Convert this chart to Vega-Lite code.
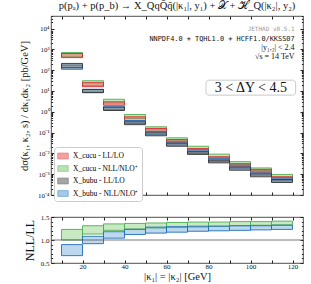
{
  "$schema": "https://vega.github.io/schema/vega-lite/v6.json",
  "padding": {"left": 19, "top": 0, "right": 2, "bottom": 0},
  "config": {
    "font": "Liberation Serif",
    "view": {"stroke": "#222", "strokeWidth": 0.8},
    "axis": {"grid": false, "domain": false, "tickColor": "#222", "tickSize": -3, "labelFont": "Liberation Serif", "labelFontSize": 7.5, "labelColor": "#111", "titleFont": "Liberation Serif", "titleFontWeight": "normal", "titleColor": "#111", "labelPadding": 5}
  },
  "datasets": {
    "upper": [
      {"b": 10, "e": 20, "s": "X_cucu - NLL/NLO⁺", "lo": 440, "hi": 700},
      {"b": 20, "e": 30, "s": "X_cucu - NLL/NLO⁺", "lo": 18, "hi": 31},
      {"b": 30, "e": 40, "s": "X_cucu - NLL/NLO⁺", "lo": 2.6, "hi": 4.0},
      {"b": 40, "e": 50, "s": "X_cucu - NLL/NLO⁺", "lo": 0.48, "hi": 0.74},
      {"b": 50, "e": 60, "s": "X_cucu - NLL/NLO⁺", "lo": 0.135, "hi": 0.19},
      {"b": 60, "e": 70, "s": "X_cucu - NLL/NLO⁺", "lo": 0.040, "hi": 0.056},
      {"b": 70, "e": 80, "s": "X_cucu - NLL/NLO⁺", "lo": 0.0155, "hi": 0.022},
      {"b": 80, "e": 90, "s": "X_cucu - NLL/NLO⁺", "lo": 0.0062, "hi": 0.0092},
      {"b": 90, "e": 100, "s": "X_cucu - NLL/NLO⁺", "lo": 0.0029, "hi": 0.0040},
      {"b": 100, "e": 110, "s": "X_cucu - NLL/NLO⁺", "lo": 0.0015, "hi": 0.0020},
      {"b": 110, "e": 120, "s": "X_cucu - NLL/NLO⁺", "lo": 0.0007, "hi": 0.00097},
      {"b": 10, "e": 20, "s": "X_cucu - LL/LO", "lo": 400, "hi": 630},
      {"b": 20, "e": 30, "s": "X_cucu - LL/LO", "lo": 16, "hi": 25},
      {"b": 30, "e": 40, "s": "X_cucu - LL/LO", "lo": 2.07, "hi": 3.0},
      {"b": 40, "e": 50, "s": "X_cucu - LL/LO", "lo": 0.37, "hi": 0.57},
      {"b": 50, "e": 60, "s": "X_cucu - LL/LO", "lo": 0.109, "hi": 0.158},
      {"b": 60, "e": 70, "s": "X_cucu - LL/LO", "lo": 0.032, "hi": 0.046},
      {"b": 70, "e": 80, "s": "X_cucu - LL/LO", "lo": 0.012, "hi": 0.017},
      {"b": 80, "e": 90, "s": "X_cucu - LL/LO", "lo": 0.0047, "hi": 0.0069},
      {"b": 90, "e": 100, "s": "X_cucu - LL/LO", "lo": 0.0023, "hi": 0.0032},
      {"b": 100, "e": 110, "s": "X_cucu - LL/LO", "lo": 0.0012, "hi": 0.0017},
      {"b": 110, "e": 120, "s": "X_cucu - LL/LO", "lo": 0.00056, "hi": 0.00075},
      {"b": 10, "e": 20, "s": "X_bubu - NLL/NLO⁺", "lo": 110, "hi": 175},
      {"b": 20, "e": 30, "s": "X_bubu - NLL/NLO⁺", "lo": 8.2, "hi": 12},
      {"b": 30, "e": 40, "s": "X_bubu - NLL/NLO⁺", "lo": 1.25, "hi": 1.85},
      {"b": 40, "e": 50, "s": "X_bubu - NLL/NLO⁺", "lo": 0.27, "hi": 0.38},
      {"b": 50, "e": 60, "s": "X_bubu - NLL/NLO⁺", "lo": 0.08, "hi": 0.115},
      {"b": 60, "e": 70, "s": "X_bubu - NLL/NLO⁺", "lo": 0.025, "hi": 0.036},
      {"b": 70, "e": 80, "s": "X_bubu - NLL/NLO⁺", "lo": 0.010, "hi": 0.0145},
      {"b": 80, "e": 90, "s": "X_bubu - NLL/NLO⁺", "lo": 0.004, "hi": 0.0058},
      {"b": 90, "e": 100, "s": "X_bubu - NLL/NLO⁺", "lo": 0.0018, "hi": 0.0027},
      {"b": 100, "e": 110, "s": "X_bubu - NLL/NLO⁺", "lo": 0.0009, "hi": 0.0013},
      {"b": 110, "e": 120, "s": "X_bubu - NLL/NLO⁺", "lo": 0.00047, "hi": 0.00065},
      {"b": 10, "e": 20, "s": "X_bubu - LL/LO", "lo": 130, "hi": 210},
      {"b": 20, "e": 30, "s": "X_bubu - LL/LO", "lo": 8.5, "hi": 11.8},
      {"b": 30, "e": 40, "s": "X_bubu - LL/LO", "lo": 1.15, "hi": 1.65},
      {"b": 40, "e": 50, "s": "X_bubu - LL/LO", "lo": 0.24, "hi": 0.33},
      {"b": 50, "e": 60, "s": "X_bubu - LL/LO", "lo": 0.070, "hi": 0.098},
      {"b": 60, "e": 70, "s": "X_bubu - LL/LO", "lo": 0.022, "hi": 0.031},
      {"b": 70, "e": 80, "s": "X_bubu - LL/LO", "lo": 0.0089, "hi": 0.012},
      {"b": 80, "e": 90, "s": "X_bubu - LL/LO", "lo": 0.0035, "hi": 0.0048},
      {"b": 90, "e": 100, "s": "X_bubu - LL/LO", "lo": 0.00155, "hi": 0.0022},
      {"b": 100, "e": 110, "s": "X_bubu - LL/LO", "lo": 0.00075, "hi": 0.00105},
      {"b": 110, "e": 120, "s": "X_bubu - LL/LO", "lo": 0.0004, "hi": 0.00055}
    ],
    "ratio": [
      {"b": 10, "e": 20, "s": "X_cucu - NLL/NLO⁺", "lo": 1.0, "hi": 1.23},
      {"b": 20, "e": 30, "s": "X_cucu - NLL/NLO⁺", "lo": 1.13, "hi": 1.31},
      {"b": 30, "e": 40, "s": "X_cucu - NLL/NLO⁺", "lo": 1.21, "hi": 1.35},
      {"b": 40, "e": 50, "s": "X_cucu - NLL/NLO⁺", "lo": 1.24, "hi": 1.36},
      {"b": 50, "e": 60, "s": "X_cucu - NLL/NLO⁺", "lo": 1.26, "hi": 1.37},
      {"b": 60, "e": 70, "s": "X_cucu - NLL/NLO⁺", "lo": 1.27, "hi": 1.38},
      {"b": 70, "e": 80, "s": "X_cucu - NLL/NLO⁺", "lo": 1.28, "hi": 1.39},
      {"b": 80, "e": 90, "s": "X_cucu - NLL/NLO⁺", "lo": 1.30, "hi": 1.39},
      {"b": 90, "e": 100, "s": "X_cucu - NLL/NLO⁺", "lo": 1.31, "hi": 1.40},
      {"b": 100, "e": 110, "s": "X_cucu - NLL/NLO⁺", "lo": 1.32, "hi": 1.40},
      {"b": 110, "e": 120, "s": "X_cucu - NLL/NLO⁺", "lo": 1.33, "hi": 1.41},
      {"b": 10, "e": 20, "s": "X_bubu - NLL/NLO⁺", "lo": 0.66, "hi": 0.90},
      {"b": 20, "e": 30, "s": "X_bubu - NLL/NLO⁺", "lo": 0.92, "hi": 1.08},
      {"b": 30, "e": 40, "s": "X_bubu - NLL/NLO⁺", "lo": 1.04, "hi": 1.18},
      {"b": 40, "e": 50, "s": "X_bubu - NLL/NLO⁺", "lo": 1.12, "hi": 1.23},
      {"b": 50, "e": 60, "s": "X_bubu - NLL/NLO⁺", "lo": 1.15, "hi": 1.28},
      {"b": 60, "e": 70, "s": "X_bubu - NLL/NLO⁺", "lo": 1.17, "hi": 1.29},
      {"b": 70, "e": 80, "s": "X_bubu - NLL/NLO⁺", "lo": 1.19, "hi": 1.30},
      {"b": 80, "e": 90, "s": "X_bubu - NLL/NLO⁺", "lo": 1.20, "hi": 1.30},
      {"b": 90, "e": 100, "s": "X_bubu - NLL/NLO⁺", "lo": 1.21, "hi": 1.31},
      {"b": 100, "e": 110, "s": "X_bubu - NLL/NLO⁺", "lo": 1.22, "hi": 1.31},
      {"b": 110, "e": 120, "s": "X_bubu - NLL/NLO⁺", "lo": 1.23, "hi": 1.32}
    ]
  },
  "spacing": 10,
  "resolve": {"scale": {"fill": "independent", "stroke": "independent"}, "legend": {"fill": "independent", "stroke": "independent"}},
  "vconcat": [
    {
      "width": 252,
      "height": 179,
      "title": {"text": "p(pₐ) + p(p_b) → X_QqQ̄q̄(|κ₁|, y₁) + 𝒳 + ℋ_Q(|κ₂|, y₂)", "font": "Liberation Serif", "fontSize": 10.5, "fontWeight": "normal", "offset": 4, "color": "#111"},
      "resolve": {"axis": {"x": "independent", "y": "independent"}},
      "layer": [
        {
          "data": {"name": "upper"},
          "mark": {"type": "rect", "fillOpacity": 0.5, "strokeWidth": 0.9},
          "encoding": {
            "x": {"field": "b", "type": "quantitative", "scale": {"domain": [5, 125], "nice": false, "zero": false}, "axis": {"values": [10, 20, 30, 40, 50, 60, 70, 80, 90, 100, 110, 120], "labels": false, "title": null}},
            "x2": {"field": "e"},
            "y": {"field": "lo", "type": "quantitative", "scale": {"type": "log", "domain": [0.0001, 40000], "nice": false}, "axis": {"values": [0.0001, 0.001, 0.01, 0.1, 1, 10, 100, 1000, 10000], "labelExpr": "'10' + replace(replace(replace(replace(replace(replace(replace(''+round(log(datum.value)/LN10),'-','⁻'),'0','⁰'),'1','¹'),'2','²'),'3','³'),'4','⁴'),'5','⁵')", "labelFontSize": 7, "title": "dσ(κ₁, κ₂, s) / dκ₁dκ₂   [pb/GeV]", "titleFontSize": 10.5, "titlePadding": 8}},
            "y2": {"field": "hi"},
            "fill": {"field": "s", "type": "nominal", "scale": {"domain": ["X_cucu - LL/LO", "X_cucu - NLL/NLO⁺", "X_bubu - LL/LO", "X_bubu - NLL/NLO⁺"], "range": ["#f2605e", "#86cf7c", "#6a6a6a", "#6aa6da"]}, "legend": {"title": null, "orient": "none", "legendX": 3, "legendY": 131, "labelFont": "Liberation Serif", "labelFontSize": 7.5, "labelOffset": 4, "symbolType": "M-1,-0.55H1V0.55H-1Z", "symbolSize": 110, "symbolOpacity": 0.6, "symbolStrokeWidth": 0.8, "rowPadding": 1.5, "padding": 3, "fillColor": "white", "strokeColor": "#cccccc", "cornerRadius": 3}},
            "stroke": {"field": "s", "type": "nominal", "scale": {"domain": ["X_cucu - LL/LO", "X_cucu - NLL/NLO⁺", "X_bubu - LL/LO", "X_bubu - NLL/NLO⁺"], "range": ["#d62728", "#4caf50", "#333333", "#1f6fb4"]}, "legend": null}
          }
        },
        {
          "data": {"name": "upper"},
          "mark": {"type": "rect", "opacity": 0},
          "encoding": {
            "x": {"field": "b", "type": "quantitative", "axis": {"orient": "top", "values": [10, 20, 30, 40, 50, 60, 70, 80, 90, 100, 110, 120], "labels": false, "title": null}},
            "y": {"field": "lo", "type": "quantitative", "axis": {"orient": "right", "values": [0.0001, 0.001, 0.01, 0.1, 1, 10, 100, 1000, 10000], "labels": false, "title": null}}
          }
        },
        {
          "data": {"name": "upper"},
          "mark": {"type": "rect", "opacity": 0},
          "encoding": {
            "x": {"field": "b", "type": "quantitative", "axis": null},
            "y": {"field": "lo", "type": "quantitative", "axis": {"orient": "left", "tickSize": -1.6, "values": [0.0002, 0.0003, 0.0004, 0.0005, 0.0006, 0.0007, 0.0008, 0.0009, 0.002, 0.003, 0.004, 0.005, 0.006, 0.007, 0.008, 0.009, 0.02, 0.03, 0.04, 0.05, 0.06, 0.07, 0.08, 0.09, 0.2, 0.3, 0.4, 0.5, 0.6, 0.7, 0.8, 0.9, 2, 3, 4, 5, 6, 7, 8, 9, 20, 30, 40, 50, 60, 70, 80, 90, 200, 300, 400, 500, 600, 700, 800, 900, 2000, 3000, 4000, 5000, 6000, 7000, 8000, 9000, 20000, 30000, 40000], "labels": false, "title": null}}
          }
        },
        {
          "data": {"name": "upper"},
          "mark": {"type": "rect", "opacity": 0},
          "encoding": {
            "x": {"field": "b", "type": "quantitative", "axis": null},
            "y": {"field": "lo", "type": "quantitative", "axis": {"orient": "right", "tickSize": -1.6, "values": [0.0002, 0.0003, 0.0004, 0.0005, 0.0006, 0.0007, 0.0008, 0.0009, 0.002, 0.003, 0.004, 0.005, 0.006, 0.007, 0.008, 0.009, 0.02, 0.03, 0.04, 0.05, 0.06, 0.07, 0.08, 0.09, 0.2, 0.3, 0.4, 0.5, 0.6, 0.7, 0.8, 0.9, 2, 3, 4, 5, 6, 7, 8, 9, 20, 30, 40, 50, 60, 70, 80, 90, 200, 300, 400, 500, 600, 700, 800, 900, 2000, 3000, 4000, 5000, 6000, 7000, 8000, 9000, 20000, 30000, 40000], "labels": false, "title": null}}
          }
        },
        {
          "data": {"values": [{"x1": 78.8, "x2": 121.5, "y1": 6.3, "y2": 33}]},
          "mark": {"type": "rect", "fill": "white", "stroke": "#bbbbbb", "strokeWidth": 0.8, "cornerRadius": 3},
          "encoding": {
            "x": {"field": "x1", "type": "quantitative", "axis": null},
            "x2": {"field": "x2"},
            "y": {"field": "y1", "type": "quantitative", "axis": null},
            "y2": {"field": "y2"}
          }
        },
        {
          "data": {"values": [{"x": 100.2, "y": 14.3, "t": "3 < ΔY < 4.5"}]},
          "mark": {"type": "text", "font": "Liberation Serif", "fontSize": 14, "align": "center", "baseline": "middle", "color": "#111"},
          "encoding": {
            "x": {"field": "x", "type": "quantitative", "axis": null},
            "y": {"field": "y", "type": "quantitative", "axis": null},
            "text": {"field": "t"}
          }
        },
        {
          "data": {"values": [{"x": 121, "y": 9100, "t": "JETHAD v0.5.1"}]},
          "mark": {"type": "text", "font": "DejaVu Sans Mono", "fontSize": 6, "align": "right", "baseline": "middle", "color": "#999999"},
          "encoding": {
            "x": {"field": "x", "type": "quantitative", "axis": null},
            "y": {"field": "y", "type": "quantitative", "axis": null},
            "text": {"field": "t"}
          }
        },
        {
          "data": {"values": [{"x": 121, "y": 3300, "t": "NNPDF4.0 + TQHL1.0 + HCFF1.0/KKSS07"}]},
          "mark": {"type": "text", "font": "DejaVu Sans Mono", "fontSize": 6.9, "align": "right", "baseline": "middle", "color": "#111"},
          "encoding": {
            "x": {"field": "x", "type": "quantitative", "axis": null},
            "y": {"field": "y", "type": "quantitative", "axis": null},
            "text": {"field": "t"}
          }
        },
        {
          "data": {"values": [{"x": 121, "y": 1200, "t": "|y₁,₂| < 2.4"}, {"x": 121, "y": 440, "t": "√s = 14 TeV"}]},
          "mark": {"type": "text", "font": "Liberation Serif", "fontSize": 8, "align": "right", "baseline": "middle", "color": "#111"},
          "encoding": {
            "x": {"field": "x", "type": "quantitative", "axis": null},
            "y": {"field": "y", "type": "quantitative", "axis": null},
            "text": {"field": "t"}
          }
        }
      ]
    },
    {
      "width": 252,
      "height": 46,
      "resolve": {"axis": {"x": "independent", "y": "independent"}},
      "layer": [
        {
          "data": {"name": "ratio"},
          "mark": {"type": "rect", "fillOpacity": 0.45, "strokeWidth": 0.9},
          "encoding": {
            "x": {"field": "b", "type": "quantitative", "scale": {"domain": [5, 125], "nice": false, "zero": false}, "axis": {"values": [10, 20, 30, 40, 50, 60, 70, 80, 90, 100, 110, 120], "labelExpr": "datum.value % 20 == 0 ? datum.label : ''", "labelFontSize": 7, "labelPadding": 2, "labelBaseline": "top", "title": "|κ₁| = |κ₂| [GeV]", "titleFontSize": 10.5, "titlePadding": 2}},
            "x2": {"field": "e"},
            "y": {"field": "lo", "type": "quantitative", "scale": {"domain": [0.5, 1.5], "nice": false, "zero": false}, "axis": {"values": [0.5, 1.0, 1.5], "format": ".1f", "labelFontSize": 7, "title": "NLL/LL", "titleFontSize": 12, "titlePadding": 4}},
            "y2": {"field": "hi"},
            "fill": {"field": "s", "type": "nominal", "scale": {"domain": ["X_cucu - NLL/NLO⁺", "X_bubu - NLL/NLO⁺"], "range": ["#86cf7c", "#6aa6da"]}, "legend": null},
            "stroke": {"field": "s", "type": "nominal", "scale": {"domain": ["X_cucu - NLL/NLO⁺", "X_bubu - NLL/NLO⁺"], "range": ["#4caf50", "#1f6fb4"]}, "legend": null}
          }
        },
        {
          "data": {"values": [{"v": 1}]},
          "mark": {"type": "rule", "color": "#555555", "strokeWidth": 0.8},
          "encoding": {"y": {"field": "v", "type": "quantitative", "axis": null}}
        },
        {
          "data": {"name": "ratio"},
          "mark": {"type": "rect", "opacity": 0},
          "encoding": {
            "x": {"field": "b", "type": "quantitative", "axis": {"orient": "top", "values": [10, 20, 30, 40, 50, 60, 70, 80, 90, 100, 110, 120], "labels": false, "title": null}},
            "y": {"field": "lo", "type": "quantitative", "axis": {"orient": "right", "values": [0.5, 1.0, 1.5], "labels": false, "title": null}}
          }
        },
        {
          "data": {"name": "ratio"},
          "mark": {"type": "rect", "opacity": 0},
          "encoding": {
            "x": {"field": "b", "type": "quantitative", "axis": null},
            "y": {"field": "lo", "type": "quantitative", "axis": {"orient": "left", "tickSize": -1.6, "values": [0.6, 0.7, 0.8, 0.9, 1.1, 1.2, 1.3, 1.4], "labels": false, "title": null}}
          }
        },
        {
          "data": {"name": "ratio"},
          "mark": {"type": "rect", "opacity": 0},
          "encoding": {
            "x": {"field": "b", "type": "quantitative", "axis": null},
            "y": {"field": "lo", "type": "quantitative", "axis": {"orient": "right", "tickSize": -1.6, "values": [0.6, 0.7, 0.8, 0.9, 1.1, 1.2, 1.3, 1.4], "labels": false, "title": null}}
          }
        }
      ]
    }
  ]
}
